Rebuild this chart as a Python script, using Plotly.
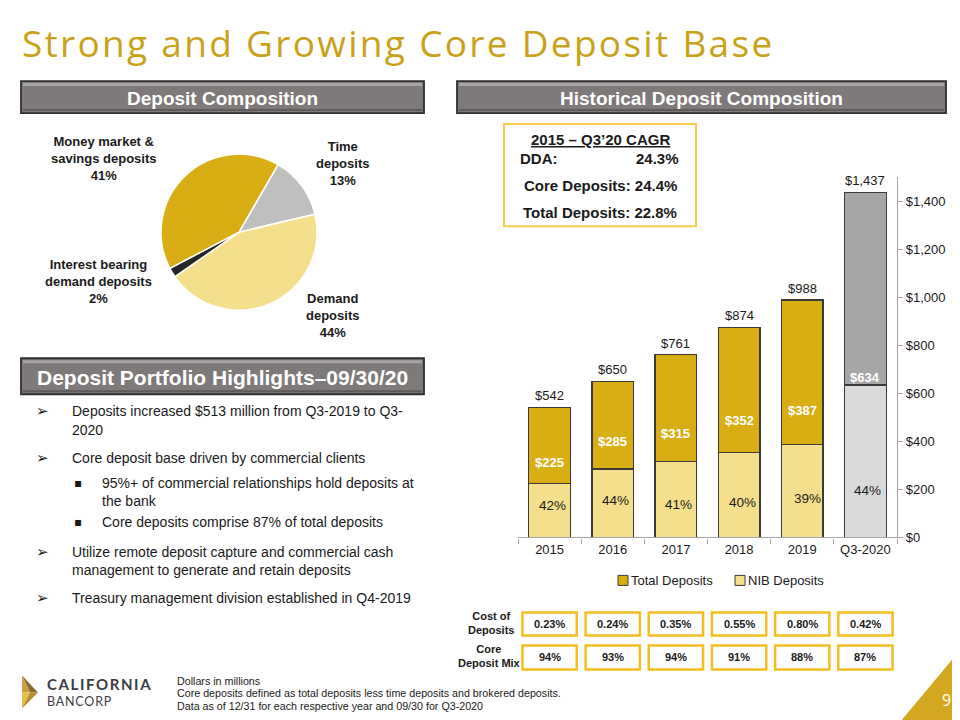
import plotly.graph_objects as go

W, H = 960, 720
OFF = 8      # page body margin offset of the rendered html
HE = 711.5   # effective vertical pixel span observed for the paper


def px(x):
    return (x - OFF) / W


def py(y):
    return 1 - (y - OFF) / HE


# ---------------- data ----------------
years = ["2015", "2016", "2017", "2018", "2019", "Q3-2020"]
total_deposits = [542, 650, 761, 874, 988, 1437]
nib_deposits = [225, 285, 315, 352, 387, 634]
nib_pct_labels = ["42%", "44%", "41%", "40%", "39%", "44%"]
cost_of_deposits = ["0.23%", "0.24%", "0.35%", "0.55%", "0.80%", "0.42%"]
core_deposit_mix = ["94%", "93%", "94%", "91%", "88%", "87%"]

pie_labels = ["Time deposits", "Demand deposits",
              "Interest bearing demand deposits", "Money market & savings deposits"]
pie_values = [13, 44, 2, 41]

cagr_labels = ["DDA:", "Core Deposits:", "Total Deposits:"]
cagr_values = ["24.3%", "24.4%", "22.8%"]

bullets = [
    ("arrow", ["Deposits increased $513 million from Q3-2019 to Q3-", "2020"]),
    ("arrow", ["Core deposit base driven by commercial clients"]),
    ("square", ["95%+ of commercial relationships hold deposits at", "the bank"]),
    ("square", ["Core deposits comprise 87% of total deposits"]),
    ("arrow", ["Utilize remote deposit capture and commercial cash",
               "management to generate and retain deposits"]),
    ("arrow", ["Treasury management division established in Q4-2019"]),
]

# ---------------- styles ----------------
GOLD = "#D9AE14"
LIGHT = "#F6DF8C"
GRAY_D = "#A6A6A6"
GRAY_L = "#D9D9D9"
BOX_GOLD = "#F2BE22"
FONT = "Arial, Liberation Sans, sans-serif"
TXT = "#1a1a1a"
EDGE = "#3a3a3a"

n = len(years)
xpos = list(range(n))
top_part = [t - b for t, b in zip(total_deposits, nib_deposits)]
top_colors = [GOLD] * (n - 1) + [GRAY_D]
bot_colors = [LIGHT] * (n - 1) + [GRAY_L]

fig = go.Figure()

fig.add_trace(go.Bar(
    x=xpos, y=nib_deposits, name="NIB Deposits", showlegend=False,
    marker=dict(color=bot_colors, line=dict(color=EDGE, width=1.3)),
    width=0.66, hoverinfo="skip",
))
fig.add_trace(go.Bar(
    x=xpos, y=top_part, name="Total Deposits", showlegend=False,
    marker=dict(color=top_colors, line=dict(color=EDGE, width=1.3)),
    width=0.66, hoverinfo="skip",
))

fig.add_trace(go.Pie(
    labels=pie_labels, values=pie_values, sort=False, direction="clockwise",
    rotation=30, textinfo="none", hoverinfo="skip", showlegend=False,
    marker=dict(colors=["#BFBFBF", LIGHT, "#262626", GOLD],
                line=dict(color="white", width=1.5)),
    domain=dict(x=[px(161), px(317)], y=[py(311), py(153)]),
))

annotations = []
shapes = []

# title
annotations.append(dict(
    x=px(20), y=py(42), xref="paper", yref="paper", xanchor="left", yanchor="middle",
    text='<span style="letter-spacing:2.3px">Strong and Growing Core Deposit Base</span>',
    showarrow=False,
    font=dict(family="Open Sans, sans-serif", size=37, color="#C9A21A")))


def header(x0, y0, x1, y1, text, size):
    shapes.append(dict(type="rect", xref="paper", yref="paper",
                       x0=px(x0), x1=px(x1), y0=py(y1), y1=py(y0),
                       fillcolor="#7E7A79", line=dict(color="#2f2f2f", width=1.8)))
    shapes.append(dict(type="rect", xref="paper", yref="paper",
                       x0=px(x0 + 2), x1=px(x1 - 2), y0=py(y0 + 5), y1=py(y0 + 2),
                       fillcolor="#A9A5A4", line=dict(width=0)))
    shapes.append(dict(type="rect", xref="paper", yref="paper",
                       x0=px(x0 + 2), x1=px(x1 - 2), y0=py(y1 - 2), y1=py(y1 - 4),
                       fillcolor="#5f5b5b", line=dict(width=0)))
    annotations.append(dict(
        x=px((x0 + x1) / 2), y=py((y0 + y1) / 2 + 1), xref="paper", yref="paper",
        text="<b>%s</b>" % text, showarrow=False, xanchor="center", yanchor="middle",
        font=dict(family=FONT, size=size, color="white")))


header(21, 81, 424, 113, "Deposit Composition", 19)
header(457, 81, 946, 113, "Historical Deposit Composition", 19)
header(21, 358, 424, 394, "Deposit Portfolio Highlights\u201309/30/20", 21)

# pie labels
pie_label_pos = [
    (342, 163, "Time<br>deposits<br>13%"),
    (332, 315, "Demand<br>deposits<br>44%"),
    (98, 281, "Interest bearing<br>demand deposits<br>2%"),
    (103, 158, "Money market &<br>savings deposits<br>41%"),
]
for x, y, t in pie_label_pos:
    annotations.append(dict(
        x=px(x), y=py(y), xref="paper", yref="paper", text="<b>%s</b>" % t,
        showarrow=False, xanchor="center", yanchor="middle", align="center",
        font=dict(family=FONT, size=13, color=TXT)))

# bullets
bullet_y = [[411, 430], [458], [483, 501], [522], [552, 570], [598]]
for (kind, lines), ys in zip(bullets, bullet_y):
    if kind == "arrow":
        mx, tx, sym, fs = 34, 70, "\u27A2", 15
    else:
        mx, tx, sym, fs = 72, 100, "\u25AA", 12
    annotations.append(dict(
        x=px(mx), y=py(ys[0]), xref="paper", yref="paper", text=sym, showarrow=False,
        xanchor="left", yanchor="middle",
        font=dict(family="DejaVu Sans", size=fs, color=TXT)))
    for line, yy in zip(lines, ys):
        annotations.append(dict(
            x=px(tx), y=py(yy), xref="paper", yref="paper", text=line, showarrow=False,
            xanchor="left", yanchor="middle",
            font=dict(family=FONT, size=14, color=TXT)))

# CAGR box
shapes.append(dict(type="rect", xref="paper", yref="paper",
                   x0=px(504), x1=px(696), y0=py(226), y1=py(124),
                   fillcolor="white", line=dict(color="#F5CD4E", width=2)))
annotations.append(dict(
    x=px(600), y=py(139), xref="paper", yref="paper",
    text="<b><u>2015 \u2013 Q3\u201920 CAGR</u></b>", showarrow=False,
    xanchor="center", yanchor="middle", font=dict(family=FONT, size=15, color=TXT)))
annotations.append(dict(
    x=px(518), y=py(158), xref="paper", yref="paper", text="<b>%s</b>" % cagr_labels[0],
    showarrow=False, xanchor="left", yanchor="middle",
    font=dict(family=FONT, size=15, color=TXT)))
annotations.append(dict(
    x=px(681), y=py(158), xref="paper", yref="paper", text="<b>%s</b>" % cagr_values[0],
    showarrow=False, xanchor="right", yanchor="middle",
    font=dict(family=FONT, size=15, color=TXT)))
for lab, val, yy in zip(cagr_labels[1:], cagr_values[1:], [185, 212]):
    annotations.append(dict(
        x=px(600), y=py(yy), xref="paper", yref="paper",
        text="<b>%s %s</b>" % (lab, val), showarrow=False,
        xanchor="center", yanchor="middle", font=dict(family=FONT, size=15, color=TXT)))

# bar labels: totals above bars
for i, tot in zip(xpos, total_deposits):
    annotations.append(dict(
        x=i, y=tot, xref="x", yref="y", text="${:,}".format(tot), showarrow=False,
        xanchor="center", yanchor="bottom", yshift=2,
        font=dict(family=FONT, size=13, color=TXT)))

# NIB $ labels in upper segment
nib_shift = [21, 27, 28, 32, 34, 8]
for i, v, s in zip(xpos, nib_deposits, nib_shift):
    annotations.append(dict(
        x=i, y=v, xref="x", yref="y", text="<b>${:,}</b>".format(v), showarrow=False,
        xanchor="center", yanchor="middle", yshift=s,
        font=dict(family=FONT, size=13, color="white")))

# percent labels in lower segment
pct_yshift = [32, 37, 33, 35, 39, 47]
pct_xshift = [3, 3, 3, 3, 5, 2]
for i, t, s, xs in zip(xpos, nib_pct_labels, pct_yshift, pct_xshift):
    annotations.append(dict(
        x=i, y=0, xref="x", yref="y", text=t, showarrow=False,
        xanchor="center", yanchor="middle", yshift=s, xshift=xs,
        font=dict(family=FONT, size=13.5, color=TXT)))

# legend (drawn)
legend_items = [("Total Deposits", GOLD, 618), ("NIB Deposits", LIGHT, 735)]
for name, col, lx in legend_items:
    shapes.append(dict(type="rect", xref="paper", yref="paper",
                       x0=px(lx), x1=px(lx + 10), y0=py(585), y1=py(575),
                       fillcolor=col, line=dict(color=EDGE, width=1)))
    annotations.append(dict(
        x=px(lx + 11), y=py(580), xref="paper", yref="paper", text=name,
        showarrow=False, xanchor="left", yanchor="middle",
        font=dict(family=FONT, size=13, color=TXT)))

# bottom metric boxes
annotations.append(dict(
    x=px(491), y=py(623), xref="paper", yref="paper", text="<b>Cost of<br>Deposits</b>",
    showarrow=False, xanchor="center", yanchor="middle", align="center",
    font=dict(family=FONT, size=11, color=TXT)))
annotations.append(dict(
    x=px(489), y=py(656), xref="paper", yref="paper", text="<b>Core<br>Deposit Mix</b>",
    showarrow=False, xanchor="center", yanchor="middle", align="center",
    font=dict(family=FONT, size=11, color=TXT)))
for i in xpos:
    for vals, (ya, yb) in ((cost_of_deposits, (612, 635)), (core_deposit_mix, (645, 669))):
        shapes.append(dict(type="rect", xref="x", yref="paper",
                           x0=i - 0.43, x1=i + 0.43, y0=py(yb), y1=py(ya),
                           fillcolor="white", line=dict(color=BOX_GOLD, width=2.5)))
        annotations.append(dict(
            x=i, y=py((ya + yb) / 2), xref="x", yref="paper",
            text="<b>%s</b>" % vals[i], showarrow=False, xanchor="center",
            yanchor="middle", font=dict(family=FONT, size=11, color=TXT)))

# footnotes
foot = ["Dollars in millions",
        "Core deposits defined as total deposits less time deposits and brokered deposits.",
        "Data as of 12/31 for each respective year and 09/30 for Q3-2020"]
for t, yy in zip(foot, [681, 693, 706]):
    annotations.append(dict(
        x=px(175), y=py(yy), xref="paper", yref="paper", text=t, showarrow=False,
        xanchor="left", yanchor="middle", font=dict(family=FONT, size=10.7, color=TXT)))


# logo
def path(pts):
    return "M " + " L ".join("%f,%f" % (px(a), py(b)) for a, b in pts) + " Z"


logo_facets = [
    ([(22, 675), (38, 692), (30, 692)], "#8A6A2E"),
    ([(22, 675), (30, 692), (22, 692)], "#C9A040"),
    ([(22, 692), (30, 692), (22, 708)], "#E3BE4A"),
    ([(30, 692), (38, 692), (22, 708)], "#B88E2E"),
]
for pts, c in logo_facets:
    shapes.append(dict(type="path", xref="paper", yref="paper", path=path(pts),
                       fillcolor=c, line=dict(width=0)))
annotations.append(dict(
    x=px(45), y=py(684), xref="paper", yref="paper",
    text='<span style="letter-spacing:1.6px"><b>CALIFORNIA</b></span>',
    showarrow=False, xanchor="left", yanchor="middle",
    font=dict(family="Lato, sans-serif", size=15, color="#3d3d42")))
annotations.append(dict(
    x=px(45), y=py(701), xref="paper", yref="paper",
    text='<span style="letter-spacing:0.8px">BANCORP</span>',
    showarrow=False, xanchor="left", yanchor="middle",
    font=dict(family="Lato, sans-serif", size=12.5, color="#3d3d42")))

# corner triangle + page number
shapes.append(dict(type="path", xref="paper", yref="paper",
                   path=path([(893, 730), (968, 640), (968, 730)]),
                   fillcolor="#D3A820", line=dict(width=0)))
annotations.append(dict(
    x=px(946), y=py(700), xref="paper", yref="paper", text="9", showarrow=False,
    xanchor="center", yanchor="middle",
    font=dict(family="Open Sans, sans-serif", size=16, color="white")))

boundaries = [i - 0.5 for i in xpos] + [xpos[-1] + 0.5]

fig.update_layout(
    width=W, height=H, margin=dict(l=0, r=0, t=0, b=0),
    paper_bgcolor="white", plot_bgcolor="white",
    barmode="stack",
    showlegend=False,
    xaxis=dict(domain=[px(518), px(897)], range=[-0.5, n - 0.5], showgrid=False,
               showline=True, linecolor="#A6A6A6", linewidth=1.3,
               tickmode="array", tickvals=xpos, ticktext=years, ticks="",
               minor=dict(tickmode="array", tickvals=boundaries, ticks="outside",
                          ticklen=5, tickcolor="#A6A6A6", showgrid=False),
               zeroline=False,
               tickfont=dict(family=FONT, size=13, color=TXT), fixedrange=True),
    yaxis=dict(domain=[py(537), py(177)], range=[0, 1500], dtick=200, side="right",
               showgrid=False, showline=True, linecolor="#A6A6A6", linewidth=1.3,
               ticks="outside", ticklen=5, tickcolor="#A6A6A6", tickprefix="$",
               tickformat=",", zeroline=False,
               tickfont=dict(family=FONT, size=13, color=TXT), fixedrange=True),
    annotations=annotations, shapes=shapes,
)

fig.write_html("out.html")
